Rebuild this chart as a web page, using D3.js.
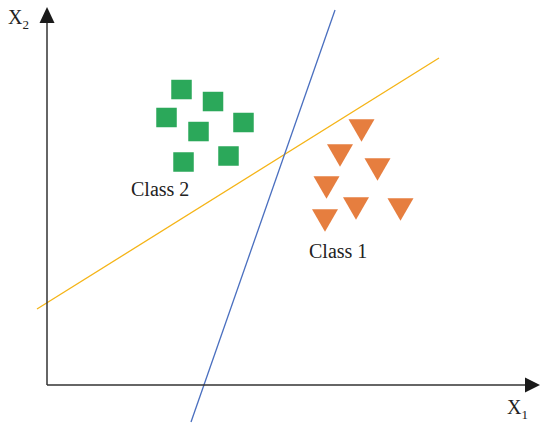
<!DOCTYPE html>
<html>
<head>
<meta charset="utf-8">
<script src="https://cdn.jsdelivr.net/npm/d3@7"></script>
<style>
  body { margin: 0; background: #fff; }
  text { font-family: "Liberation Serif", "DejaVu Serif", serif; fill: #222; }
</style>
</head>
<body>
<div id="chart"></div>
<script>
// class 2 (green squares), class 1 (orange triangles), in axis units
var class2X = [2.745, 3.388, 2.439, 4.01, 3.092, 3.704, 2.786];
var class2Y = [6.243, 5.989, 5.651, 5.545, 5.354, 4.836, 4.709];
var class1X = [6.418, 5.98, 6.745, 5.704, 6.306, 7.214, 5.673];
var class1Y = [5.467, 4.938, 4.641, 4.26, 3.816, 3.795, 3.562];

// two separating lines, end points
var blueLineX = [2.939, 5.878];
var blueLineY = [-0.783, 7.937];
var yellowLineX = [-0.204, 8.0];
var yellowLineY = [1.608, 6.921];

var width = 540, height = 423;

var svg = d3.select("#chart").append("svg")
    .attr("width", width)
    .attr("height", height);

var x = d3.scaleLinear().domain([0, 10]).range([47, 537]);
var y = d3.scaleLinear().domain([0, 8]).range([385, 7]);

// lines
var line = d3.line()
    .x(function(d) { return x(d[0]); })
    .y(function(d) { return y(d[1]); });

svg.append("path")
    .datum(d3.zip(yellowLineX, yellowLineY))
    .attr("d", line)
    .attr("fill", "none")
    .attr("stroke", "#f5b417")
    .attr("stroke-width", 1.3);

svg.append("path")
    .datum(d3.zip(blueLineX, blueLineY))
    .attr("d", line)
    .attr("fill", "none")
    .attr("stroke", "#4a6fbf")
    .attr("stroke-width", 1.3);

// axes
svg.append("line")
    .attr("x1", x(0)).attr("y1", y(0))
    .attr("x2", x(0)).attr("y2", y(8) + 14)
    .attr("stroke", "#333").attr("stroke-width", 1.5);
svg.append("line")
    .attr("x1", x(0)).attr("y1", y(0))
    .attr("x2", x(10) - 10).attr("y2", y(0))
    .attr("stroke", "#333").attr("stroke-width", 1.5);

svg.append("path")
    .attr("d", "M" + x(0) + "," + y(8) + "l-7.5,16h15z")
    .attr("fill", "#1a1a1a");
svg.append("path")
    .attr("d", "M" + (x(10) + 3) + "," + y(0) + "l-15,-7.5v15z")
    .attr("fill", "#1a1a1a");

// squares
var sq = 20.5;
svg.selectAll("rect.class2")
    .data(d3.range(class2X.length))
    .enter()
    .append("rect")
    .attr("class", "class2")
    .attr("x", function(i) { return x(class2X[i]) - sq / 2; })
    .attr("y", function(i) { return y(class2Y[i]) - sq / 2; })
    .attr("width", sq)
    .attr("height", sq - 1)
    .attr("fill", "#2ba85a");

// triangles
var tri = d3.symbol().type(d3.symbolTriangle).size(Math.sqrt(3) / 4 * 26 * 26);
svg.selectAll("path.class1")
    .data(d3.range(class1X.length))
    .enter()
    .append("path")
    .attr("class", "class1")
    .attr("d", tri)
    .attr("transform", function(i) {
        return "translate(" + x(class1X[i]) + "," + y(class1Y[i]) + ") rotate(180)";
    })
    .attr("fill", "#e67e3f");

// labels
svg.append("text").attr("x", 131).attr("y", 196)
    .attr("font-size", 20).text("Class 2");
svg.append("text").attr("x", 309).attr("y", 258)
    .attr("font-size", 20).text("Class 1");

var x2 = svg.append("text").attr("x", 8).attr("y", 24).attr("font-size", 20);
x2.append("tspan").text("X");
x2.append("tspan").attr("font-size", 13).attr("dy", 5).text("2");

var x1 = svg.append("text").attr("x", 507).attr("y", 414).attr("font-size", 20);
x1.append("tspan").text("X");
x1.append("tspan").attr("font-size", 13).attr("dy", 5).text("1");
</script>
</body>
</html>
